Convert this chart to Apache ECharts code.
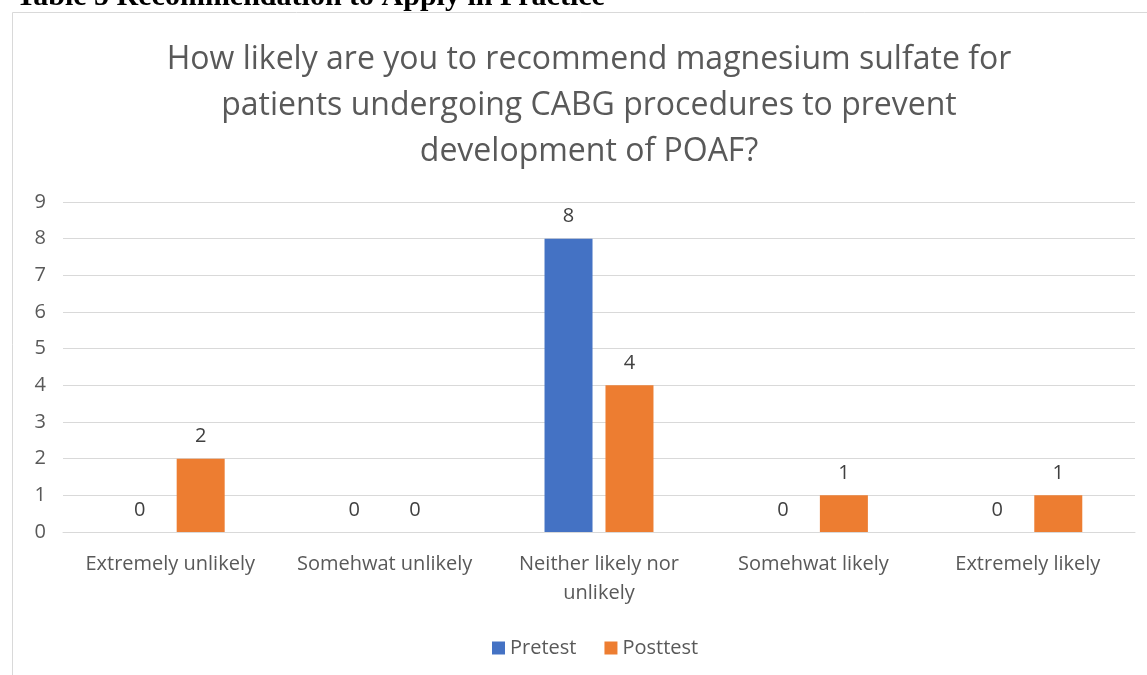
<!DOCTYPE html>
<html>
<head>
<meta charset="utf-8">
<script src="https://cdn.jsdelivr.net/npm/echarts@6/dist/echarts.min.js"></script>
<style>
html,body{margin:0;padding:0;background:#fff;}
#c{width:1147px;height:675px;}
</style>
</head>
<body>
<div id="c"></div>
<script>
const categories = ["Extremely unlikely", "Somehwat unlikely", "Neither likely nor unlikely", "Somehwat likely", "Extremely likely"];
const pretest = [0, 0, 8, 0, 0];
const posttest = [2, 0, 4, 1, 1];
const seriesNames = ["Pretest", "Posttest"];
const yTicks = [0, 1, 2, 3, 4, 5, 6, 7, 8, 9];
const titleText = "How likely are you to recommend magnesium sulfate for\npatients undergoing CABG procedures to prevent\ndevelopment of POAF?";
const headerText = "Table 5 Recommendation to Apply in Practice";

const FONT = "Open Sans";
const chart = echarts.init(document.getElementById('c'), null, {renderer: 'canvas'});
const labelStyle = {show: true, position: 'top', distance: 12, color: '#404040', fontFamily: FONT, fontSize: 20};
chart.setOption({
  backgroundColor: '#fff',
  animation: false,
  graphic: [
    {type: 'rect', shape: {x: 12.5, y: 12.5, width: 1200, height: 800}, style: {fill: 'none', stroke: '#d9d9d9', lineWidth: 1}, z: -1},
    {type: 'text', x: 16, y: 12, style: {text: headerText, font: 'bold 30px "Liberation Serif"', fill: '#000', verticalAlign: 'bottom'}},
    {type: 'text', x: 589, y: 37, style: {text: titleText, fontFamily: FONT, fontSize: 32, fill: '#595959', align: 'center', lineHeight: 46, verticalAlign: 'top'}}
  ],
  legend: {
    data: seriesNames, left: 487, top: 633, icon: 'rect', itemWidth: 13, itemHeight: 13, itemGap: 28,
    textStyle: {color: '#595959', fontFamily: FONT, fontSize: 20}
  },
  grid: {left: 63, right: 12, top: 202, bottom: 143, containLabel: false},
  xAxis: {
    type: 'category', data: categories,
    axisLine: {lineStyle: {color: '#d9d9d9', width: 1}},
    axisTick: {show: false},
    axisLabel: {
      color: '#595959', fontFamily: FONT, fontSize: 20, margin: 18, lineHeight: 29, interval: 0,
      formatter: v => v.replace(' nor ', ' nor\n')
    }
  },
  yAxis: {
    type: 'value', min: yTicks[0], max: yTicks[yTicks.length - 1], interval: 1,
    axisLine: {show: false}, axisTick: {show: false},
    axisLabel: {color: '#595959', fontFamily: FONT, fontSize: 20, margin: 17},
    splitLine: {lineStyle: {color: '#d9d9d9', width: 1}}
  },
  series: [
    {name: seriesNames[0], type: 'bar', data: pretest, barWidth: 48, barGap: '27%', itemStyle: {color: '#4472C4'}, label: labelStyle},
    {name: seriesNames[1], type: 'bar', data: posttest, barWidth: 48, itemStyle: {color: '#ED7D31'}, label: labelStyle}
  ]
});
</script>
</body>
</html>
